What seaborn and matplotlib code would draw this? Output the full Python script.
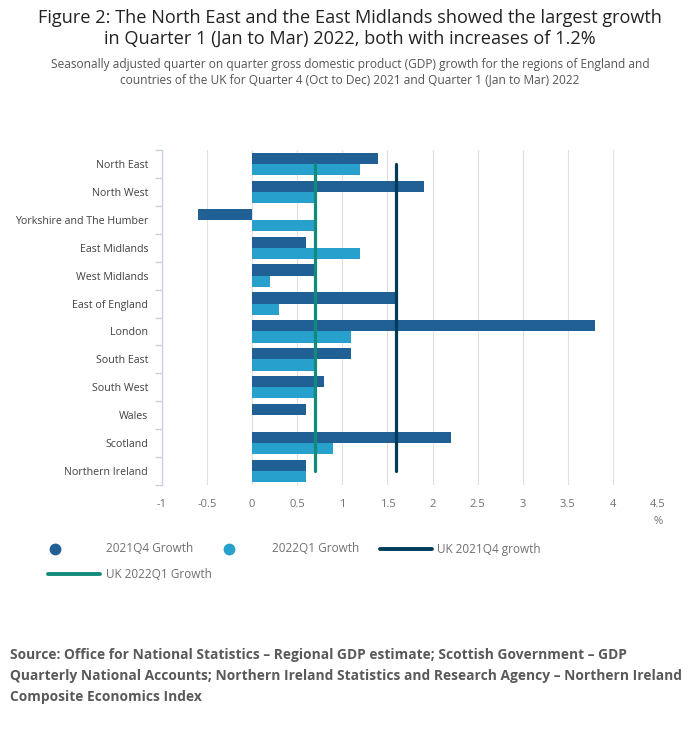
import numpy as np
import pandas as pd
import matplotlib
matplotlib.use("Agg")
import matplotlib.pyplot as plt
from matplotlib.lines import Line2D
import seaborn as sns

# Data
regions = ["North East", "North West", "Yorkshire and The Humber", "East Midlands",
           "West Midlands", "East of England", "London", "South East", "South West",
           "Wales", "Scotland", "Northern Ireland"]
growth_2021q4 = [1.4, 1.9, -0.6, 0.6, 0.7, 1.6, 3.8, 1.1, 0.8, 0.6, 2.2, 0.6]
growth_2022q1 = [1.2, 0.7, 0.7, 1.2, 0.2, 0.3, 1.1, 0.7, 0.7, np.nan, 0.9, 0.6]
uk_2021q4 = 1.6
uk_2022q1 = 0.7
series_names = ["2021Q4 Growth", "2022Q1 Growth"]
x_ticks = [-1, -0.5, 0, 0.5, 1, 1.5, 2, 2.5, 3, 3.5, 4, 4.5]

df = pd.DataFrame({
    "region": regions * 2,
    "growth": growth_2021q4 + growth_2022q1,
    "series": [series_names[0]] * len(regions) + [series_names[1]] * len(regions),
})

dark_blue = "#206095"
light_blue = "#27a0cc"
navy = "#003c57"
teal = "#118c7b"

sns.set_style("white")
plt.rcParams["font.family"] = ["Open Sans", "DejaVu Sans"]

W, H = 700, 732
fig = plt.figure(figsize=(7, 7.32), dpi=100)
ax = fig.add_axes([162 / W, 1 - 485 / H, 496 / W, 335 / H])

sns.barplot(data=df, x="growth", y="region", hue="series", orient="h",
            palette=[dark_blue, light_blue], width=0.8, saturation=1,
            linewidth=0, edgecolor="none",
            order=regions, hue_order=series_names, legend=False, ax=ax)

# UK reference lines from first to last region
ypos = np.arange(len(regions))
ax.plot([uk_2021q4] * len(regions), ypos, color=navy, lw=2.3, zorder=5)
ax.plot([uk_2022q1] * len(regions), ypos, color=teal, lw=2.3, zorder=5)

ax.set_xlim(-1, 4.5)
ax.set_ylim(len(regions) - 0.5, -0.5)
ax.set_xticks(x_ticks)
ax.set_xticklabels([f"{t:g}" for t in x_ticks])
ax.grid(axis="x", color="#e0e0e0", lw=0.8)
ax.set_axisbelow(True)
for s in ["top", "right", "bottom"]:
    ax.spines[s].set_visible(False)
ax.spines["left"].set_color("#c9d2e3")
ax.spines["left"].set_linewidth(1)
ax.set_xlabel("")
ax.set_ylabel("")
ax.tick_params(axis="x", length=0, labelsize=8, labelcolor="#707070", pad=10)
ax.tick_params(axis="y", which="major", left=False, length=0, labelsize=7.7,
               labelcolor="#414042", pad=10)
ax.set_yticks(np.arange(len(regions) + 1) - 0.5, minor=True)
ax.tick_params(axis="y", which="minor", left=True, length=5, color="#c9d2e3", width=1)
ax.text(4.5, -0.11, "%", transform=ax.get_xaxis_transform(), ha="center",
        va="center", fontsize=8, color="#707070")

# Titles
fig.text(0.5, 1 - 28 / H, "Figure 2: The North East and the East Midlands showed the largest growth\n"
         "in Quarter 1 (Jan to Mar) 2022, both with increases of 1.2%",
         ha="center", va="center", fontsize=13.1, color="#222222", linespacing=1.2)
fig.text(0.5, 1 - 72 / H, "Seasonally adjusted quarter on quarter gross domestic product (GDP) growth for the regions of England and\n"
         "countries of the UK for Quarter 4 (Oct to Dec) 2021 and Quarter 1 (Jan to Mar) 2022",
         ha="center", va="center", fontsize=8.6, color="#555555", linespacing=1.25)

# Legend swatches placed in figure pixels
def fx(px):
    return px / W


def fy(py):
    return 1 - py / H


legend_items = [
    ("marker", dark_blue, 55, 549, 106, "2021Q4 Growth"),
    ("marker", light_blue, 229, 549, 272, "2022Q1 Growth"),
    ("line", navy, (380, 432), 549, 437, "UK 2021Q4 growth"),
    ("line", teal, (48, 100), 574, 106, "UK 2022Q1 Growth"),
]
for kind, col, hx, hy, tx, label in legend_items:
    if kind == "marker":
        fig.add_artist(Line2D([fx(hx)], [fy(hy)], marker="o", ls="none", color=col,
                              markersize=7.5, transform=fig.transFigure))
    else:
        fig.add_artist(Line2D([fx(hx[0]), fx(hx[1])], [fy(hy), fy(hy)], color=col,
                              lw=2.8, transform=fig.transFigure))
    fig.text(fx(tx), fy(hy), label, ha="left", va="center", fontsize=8.5, color="#707070")

fig.text(10 / W, 1 - 676 / H,
         "Source: Office for National Statistics \u2013 Regional GDP estimate; Scottish Government \u2013 GDP\n"
         "Quarterly National Accounts; Northern Ireland Statistics and Research Agency \u2013 Northern Ireland\n"
         "Composite Economics Index",
         ha="left", va="center", fontsize=9.9, fontweight="bold", color="#595959", linespacing=1.6)

fig.savefig("out.png", dpi=100)
